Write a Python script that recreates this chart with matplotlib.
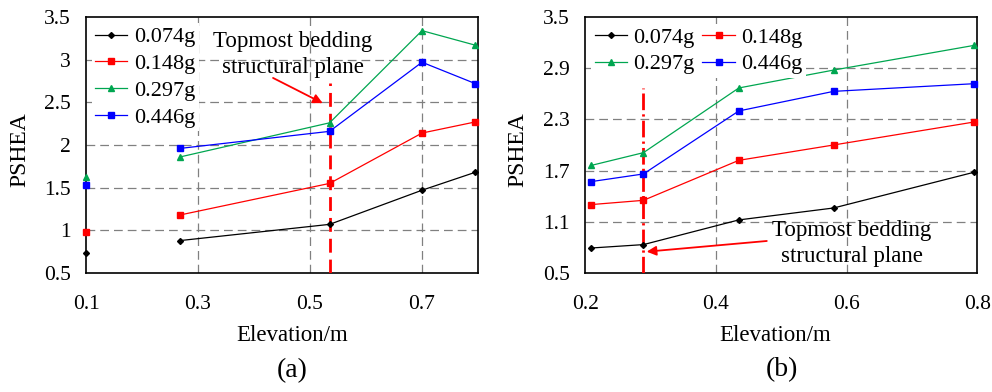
import matplotlib
matplotlib.use("Agg")
import matplotlib.pyplot as plt

plt.rcParams['font.family'] = ['Liberation Serif', 'DejaVu Serif']

# ---- data: panel (a) ----
elev_a = [0.1, 0.268, 0.535, 0.7, 0.795]
a_0074 = [0.74, 0.88, 1.07, 1.47, 1.68]
a_0148 = [0.98, 1.18, 1.55, 2.14, 2.27]
a_0297 = [1.63, 1.86, 2.26, 3.34, 3.17]
a_0446 = [1.53, 1.96, 2.16, 2.97, 2.72]

# ---- data: panel (b) ----
elev_b = [0.209, 0.289, 0.435, 0.58, 0.795]
b_0074 = [0.79, 0.83, 1.12, 1.26, 1.68]
b_0148 = [1.30, 1.35, 1.82, 2.00, 2.27]
b_0297 = [1.76, 1.91, 2.67, 2.88, 3.17]
b_0446 = [1.57, 1.66, 2.40, 2.63, 2.72]

labels = ['0.074g', '0.148g', '0.297g', '0.446g']
colors = ['black', '#FF0000', '#00A650', '#0000FF']
markers = ['D', 's', '^', 's']
msizes = [3, 4.5, 5, 4.5]

xticks_a = [0.1, 0.3, 0.5, 0.7]
yticks_a = [0.5, 1, 1.5, 2, 2.5, 3, 3.5]
xticks_b = [0.2, 0.4, 0.6, 0.8]
yticks_b = [0.5, 1.1, 1.7, 2.3, 2.9, 3.5]

plane_a = 0.535
plane_b = 0.289
note = 'Topmost bedding\nstructural plane'

fig = plt.figure(figsize=(9.92, 3.92), dpi=100)
ax_a = fig.add_axes([86 / 992, 1 - 273 / 392, 392 / 992, 256 / 392])
ax_b = fig.add_axes([585.3 / 992, 1 - 272.7 / 392, 392 / 992, 255.4 / 392])


def style_axes(ax, xlim, xticks, ylim, yticks, xgrid):
    ax.set_xlim(*xlim)
    ax.set_ylim(*ylim)
    ax.set_xticks(xticks)
    ax.set_yticks(yticks)
    ax.set_xticklabels([f'{t:g}' for t in xticks])
    ax.set_yticklabels([f'{t:g}' for t in yticks])
    ax.tick_params(length=0, labelsize=15.5)
    ax.tick_params(axis='y', pad=11)
    ax.tick_params(axis='x', pad=16)
    for s in ax.spines.values():
        s.set_linewidth(1.2)
        s.set_color('black')
    for yv in yticks[1:-1]:
        ax.axhline(yv, color='#808080', lw=0.9, ls=(0, (7, 4)), zorder=1)
    for xv in xgrid:
        ax.axvline(xv, color='#808080', lw=0.9, ls=(0, (7, 4)), zorder=1)


style_axes(ax_a, (0.1, 0.8), xticks_a, (0.5, 3.5), yticks_a, [0.3, 0.5, 0.7])
style_axes(ax_b, (0.2, 0.8), xticks_b, (0.5, 3.5), yticks_b, [0.4, 0.6])

# panel (a): first point stands alone, the rest are joined
series_a = [a_0074, a_0148, a_0297, a_0446]
handles_a = []
for ys, c, m, ms, lab in zip(series_a, colors, markers, msizes, labels):
    h, = ax_a.plot(elev_a[1:], ys[1:], color=c, lw=0.9, marker=m, ms=ms,
                   label=lab, zorder=4, clip_on=False)
    ax_a.plot(elev_a[:1], ys[:1], color=c, lw=0, marker=m, ms=ms,
              zorder=4, clip_on=False)
    handles_a.append(h)

series_b = [b_0074, b_0148, b_0297, b_0446]
handles_b = []
for ys, c, m, ms, lab in zip(series_b, colors, markers, msizes, labels):
    h, = ax_b.plot(elev_b, ys, color=c, lw=0.9, marker=m, ms=ms,
                   label=lab, zorder=4, clip_on=False)
    handles_b.append(h)

# bedding plane markers
ax_a.plot([plane_a, plane_a], [0.5, 2.73], color='#FF0000', lw=2,
          ls=(0, (5, 2.5)), zorder=3)
ax_b.plot([plane_b, plane_b], [0.5, 2.67], color='#FF0000', lw=2,
          ls=(0, (6, 1.5, 0.8, 1.5)), zorder=3)

ax_a.annotate('', xy=(0.5227, 2.49), xytext=(0.434, 2.786),
              arrowprops=dict(arrowstyle='-|>', color='#FF0000', lw=1.3,
                              mutation_scale=14, shrinkA=0, shrinkB=0))
ax_a.text(0.4696, 3.06, note, ha='center', va='center', fontsize=16.5,
          linespacing=1.3)

ax_b.annotate('', xy=(0.294, 0.747), xytext=(0.4778, 0.8725),
              arrowprops=dict(arrowstyle='-|>', color='#FF0000', lw=1.3,
                              mutation_scale=14, shrinkA=0, shrinkB=0))
ax_b.text(0.608, 0.845, note, ha='center', va='center', fontsize=16.5,
          linespacing=1.3)

leg_kw = dict(fontsize=16, frameon=True, fancybox=False, framealpha=1,
              edgecolor='none', facecolor='white', handlelength=1.45,
              handletextpad=0.3, labelspacing=0.28, borderpad=0.15,
              borderaxespad=0.0, loc='upper left')
ax_a.legend(handles=handles_a, bbox_to_anchor=(0.015, 0.975), **leg_kw)
ax_b.legend(handles=[handles_b[0], handles_b[2], handles_b[1], handles_b[3]],
            ncol=2, columnspacing=0.35,
            bbox_to_anchor=(0.015, 0.975), **leg_kw)

for ax, xc, cap, xcap in [(ax_a, 0.525, '(a)', 0.527),
                          (ax_b, 0.484, '(b)', 0.501)]:
    ax.text(xc, -0.245, 'Elevation/m', transform=ax.transAxes,
            ha='center', va='center', fontsize=16.5)
    ax.text(xcap, -0.38, cap, transform=ax.transAxes,
            ha='center', va='center', fontsize=20)

ax_a.text(-0.168, 0.48, 'PSHEA', transform=ax_a.transAxes, rotation=90,
          ha='center', va='center', fontsize=17)
ax_b.text(-0.172, 0.48, 'PSHEA', transform=ax_b.transAxes, rotation=90,
          ha='center', va='center', fontsize=17)

fig.savefig('out.png', dpi=100)
